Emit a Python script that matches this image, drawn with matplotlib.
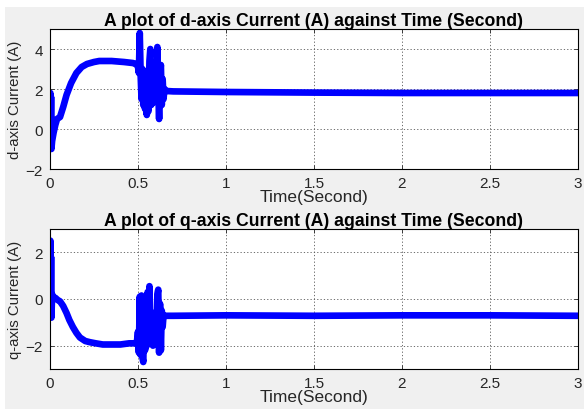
"""d/q-axis current plots, MATLAB-figure look."""

import matplotlib

matplotlib.use("Agg")

import matplotlib.pyplot as plt
from matplotlib.patches import Rectangle

# d-axis current trace (time in s, current in A)
d_time = [0.0, 0.002, 0.004, 0.006, 0.008, 0.012, 0.02, 0.03, 0.04, 0.057,
          0.075, 0.094, 0.12, 0.15, 0.18, 0.21, 0.25, 0.28, 0.35, 0.42,
          0.47, 0.49, 0.5, 0.505, 0.51, 0.515, 0.52, 0.525, 0.53, 0.535,
          0.54, 0.545, 0.55, 0.555, 0.56, 0.565, 0.57, 0.575, 0.58, 0.585,
          0.59, 0.595, 0.6, 0.605, 0.61, 0.615, 0.62, 0.625, 0.63, 0.635,
          0.64, 0.645, 0.65, 0.66, 0.7, 1.0, 1.5, 2.0, 2.5, 3.0]
d_current = [0.0, 1.8, -0.3, 1.6, -1.0, -0.6, -0.2, 0.2, 0.5, 0.6,
             1.1, 1.7, 2.3, 2.8, 3.1, 3.25, 3.35, 3.4, 3.4, 3.35,
             3.3, 3.25, 3.1, 2.8, 4.8, 2.7, 1.5, 3.0, 1.2, 2.9,
             1.0, 2.8, 0.7, 2.6, 0.9, 3.4, 4.0, 1.2, 3.3, 1.3,
             3.0, 1.5, 3.2, 1.4, 4.1, 2.0, 0.5, 2.8, 3.2, 1.2,
             2.5, 1.5, 2.0, 1.9, 1.88, 1.85, 1.82, 1.8, 1.8, 1.8]

# q-axis current trace
q_time = [0.0, 0.002, 0.004, 0.006, 0.008, 0.012, 0.02, 0.03, 0.045, 0.057,
          0.075, 0.094, 0.11, 0.13, 0.15, 0.17, 0.2, 0.226, 0.26, 0.3,
          0.35, 0.4, 0.45, 0.49, 0.495, 0.5, 0.505, 0.51, 0.515, 0.52,
          0.525, 0.53, 0.535, 0.54, 0.545, 0.55, 0.555, 0.56, 0.565, 0.57,
          0.575, 0.58, 0.585, 0.59, 0.595, 0.6, 0.605, 0.61, 0.615, 0.62,
          0.625, 0.63, 0.635, 0.64, 0.645, 0.66, 0.7, 1.0, 1.5, 2.0,
          2.5, 3.0]
q_current = [0.0, 2.5, -0.5, 1.8, -0.8, 0.2, 0.05, 0.05, -0.05, -0.1,
             -0.3, -0.6, -0.9, -1.2, -1.45, -1.65, -1.8, -1.85, -1.9, -1.95,
             -1.95, -1.95, -1.9, -1.9, -1.75, -1.4, -2.3, 0.1, -2.4, 0.15,
             -2.5, -2.7, -0.6, -2.2, -0.3, -2.0, 0.3, -1.5, 0.55, -1.2,
             -1.85, -0.8, -2.0, -0.6, -1.5, -0.9, -1.9, 0.2, 0.4, -2.3,
             -0.2, -2.2, -0.5, -1.2, -0.7, -0.72, -0.72, -0.7, -0.72, -0.7,
             -0.7, -0.72]

x_ticks = [0, 0.5, 1, 1.5, 2, 2.5, 3]
x_tick_labels = ["0", "0.5", "1", "1.5", "2", "2.5", "3"]

plt.rcParams["font.family"] = ["Liberation Sans", "DejaVu Sans"]

fig = plt.figure(figsize=(5.84, 4.10), dpi=100, facecolor="white")
# grey MATLAB figure area, screenshot leaves a thin white margin left and top
fig.patches.append(
    Rectangle((5 / 584, 0), 1, 1 - 8 / 410, transform=fig.transFigure,
              facecolor="#f0f0f0", edgecolor="none", zorder=-10)
)


def style_axes(ax, title, ylabel, ylim, yticks):
    ax.set_xlim(0, 3)
    ax.set_ylim(*ylim)
    ax.set_xticks(x_ticks)
    ax.set_xticklabels(x_tick_labels)
    ax.set_yticks(yticks)
    ax.tick_params(direction="in", top=True, right=True, labelsize=11,
                   length=3, width=0.6, pad=5, colors="#262626")
    ax.grid(True, linestyle=(0, (1.5, 2.5)), color="#555555", linewidth=0.6)
    for spine in ax.spines.values():
        spine.set_linewidth(0.8)
    ax.set_title(title, fontsize=12.7, fontweight="bold", pad=3)
    ax.set_xlabel("Time(Second)", fontsize=12.5, labelpad=-1, color="#262626")
    ax.set_ylabel(ylabel, fontsize=10.8, labelpad=3, color="#262626")


ax_d = fig.add_axes([50 / 584, 240 / 410, 528 / 584, 140 / 410])
ax_d.plot(d_time, d_current, color="#0000ff", linewidth=4.8,
          solid_joinstyle="round")
style_axes(ax_d, "A plot of d-axis Current (A) against Time (Second)",
           "d-axis Current (A)", (-2, 5), [-2, 0, 2, 4])

ax_q = fig.add_axes([50 / 584, 40 / 410, 528 / 584, 140 / 410])
ax_q.plot(q_time, q_current, color="#0000ff", linewidth=4.8,
          solid_joinstyle="round")
style_axes(ax_q, "A plot of q-axis Current (A) against Time (Second)",
           "q-axis Current (A)", (-3, 3), [-2, 0, 2])

fig.savefig("out.png", dpi=100)
plt.close(fig)
